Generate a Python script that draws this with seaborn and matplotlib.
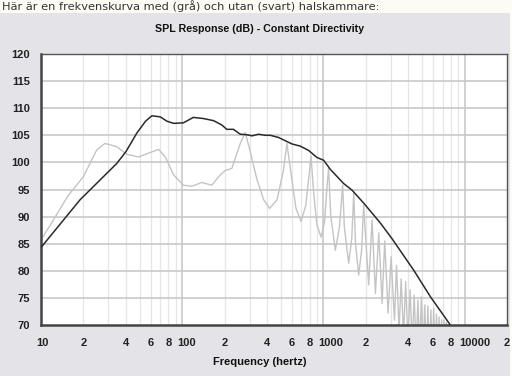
import numpy as np
import pandas as pd
import matplotlib
matplotlib.use("Agg")
import matplotlib.pyplot as plt
import matplotlib.transforms as mtrans
import seaborn as sns
from matplotlib.patches import Rectangle

# svart kurva (utan halskammare)
black_freq = [10, 18.9, 34.4, 40, 47.7, 55, 61, 70, 78, 87, 102, 120, 141, 167, 191, 207,
              231, 258, 288, 312, 348, 388, 421, 482, 537, 600, 687, 787, 902, 1005, 1122,
              1393, 1594, 1930, 2537, 3070, 4370, 5740, 7840, 9000]
black_db = [84.3, 93.1, 99.8, 102.0, 105.4, 107.6, 108.6, 108.4, 107.6, 107.2, 107.3, 108.3,
            108.1, 107.7, 106.9, 106.1, 106.1, 105.2, 105.1, 104.9, 105.2, 105.0, 105.0, 104.6,
            104.0, 103.4, 103.0, 102.2, 100.9, 100.4, 98.7, 96.1, 94.9, 92.5, 88.8, 85.9, 80.1,
            75.2, 70.2, 67.5]

# grå kurva (med halskammare)
gray_freq = [10, 12, 15.5, 20, 24.8, 28.4, 34.4, 40.5, 49, 59, 68, 76, 87, 102, 117, 138, 162,
             186, 202, 225, 258, 280,
             300, 339, 378, 416, 470, 522, 552,
             590, 640, 695, 750, 795, 818,
             850, 900, 964, 1020, 1065, 1090,
             1130, 1216, 1300, 1370,
             1410, 1512, 1590, 1642,
             1690, 1780, 1870, 1930,
             2095, 2215, 2338, 2470, 2608, 2722, 2876, 3020, 3190, 3300, 3440, 3560, 3700,
             3830, 3970, 4120, 4260, 4400, 4540, 4680, 4810, 4950, 5090, 5230, 5370, 5500,
             5640, 5780, 5910, 6050, 6190, 6330, 6460, 6600, 6740, 6880, 7010, 7150, 7280,
             7420, 7560]
gray_db = [85.7, 89.0, 93.8, 97.4, 102.3, 103.5, 102.9, 101.5, 101.0, 101.8, 102.4, 101.0, 97.7,
           95.8, 95.6, 96.3, 95.8, 97.7, 98.5, 98.9, 103.5, 105.5,
           102.5, 96.8, 93.1, 91.5, 93.1, 98.6, 103.5,
           98.0, 91.5, 89.1, 92.0, 98.0, 101.2,
           95.0, 88.5, 86.2, 89.0, 96.0, 98.9,
           90.0, 83.8, 88.0, 95.8,
           88.0, 81.4, 86.0, 94.3,
           85.0, 79.2, 84.0, 92.1,
           77.4, 89.4, 75.8, 87.0, 74.0, 85.5, 72.2, 82.6, 70.9, 81.0, 69.0, 78.5, 68.0,
           78.0, 67.0, 76.5, 66.0, 75.5, 66.0, 74.6, 65.0, 75.2, 65.0, 73.7, 64.0, 73.5,
           64.0, 72.8, 63.0, 73.1, 63.0, 72.0, 62.0, 71.5, 62.0, 71.0, 61.0, 70.9, 61.0,
           70.5, 60.0]

xticks = [10, 20, 40, 60, 80, 100, 200, 400, 600, 800, 1000, 2000, 4000, 6000, 8000, 10000, 20000]
xticklabels = ["10", "2", "4", "6", "8", "100", "2", "4", "6", "8", "1000", "2", "4", "6", "8",
               "10000", "2"]
yticks = [70, 75, 80, 85, 90, 95, 100, 105, 110, 115, 120]

black_df = pd.DataFrame({"freq": black_freq, "db": black_db})
gray_df = pd.DataFrame({"freq": gray_freq, "db": gray_db})

sns.set_style("white")
plt.rcParams["font.family"] = ["Liberation Sans", "DejaVu Sans"]

fig = plt.figure(figsize=(5.12, 3.76), dpi=100)
fig.patch.set_facecolor("#fcfcf4")
fig.patches.append(Rectangle((0, 0), 510 / 512, 1 - 13 / 376, transform=fig.transFigure,
                             facecolor="#e3e3e8", edgecolor="none", zorder=-5))

ax = fig.add_axes([41 / 512, 1 - 325 / 376, (507 - 41) / 512, (325 - 54) / 376])
ax.set_facecolor("white")
ax.set_xscale("log")

# rutnät
minor = [m * 10 ** e for e in range(1, 5) for m in range(2, 10)]
for v in minor:
    if 10 < v < 20000:
        ax.axvline(v, color="#e6e6e6", lw=0.9, zorder=1)
for v in [100, 1000, 10000]:
    ax.axvline(v, color="#c8c8c8", lw=1.2, zorder=1)
for v in yticks[1:-1]:
    ax.axhline(v, color="#c8c8c8", lw=1.2, zorder=1)

sns.lineplot(data=gray_df, x="freq", y="db", ax=ax, color="#c4c4c4", lw=1.0,
             estimator=None, sort=False, zorder=2)
sns.lineplot(data=black_df, x="freq", y="db", ax=ax, color="#2a2a2a", lw=1.1,
             estimator=None, sort=False, zorder=3)

ax.set_xlim(10, 20000)
ax.set_ylim(70, 120)
ax.set_xticks(xticks)
ax.set_xticklabels(xticklabels)
ax.xaxis.set_minor_locator(matplotlib.ticker.NullLocator())
ax.set_yticks(yticks)
ax.tick_params(axis="both", length=0, labelsize=8, colors="#222222")
ax.tick_params(axis="x", pad=9)
ax.tick_params(axis="y", pad=8)
for lab in ax.get_xticklabels() + ax.get_yticklabels():
    lab.set_fontweight("bold")
# flersiffriga etiketter börjar strax vänster om linjen
shift = mtrans.ScaledTranslation(-5 / 100, 0, fig.dpi_scale_trans)
for lab in ax.get_xticklabels():
    if len(lab.get_text()) > 1:
        lab.set_horizontalalignment("left")
        lab.set_transform(lab.get_transform() + shift)
ax.set_xlabel("")
ax.set_ylabel("")

for side in ["top", "right"]:
    ax.spines[side].set_color("#555555")
    ax.spines[side].set_linewidth(1.0)
for side in ["left", "bottom"]:
    ax.spines[side].set_color("#444444")
    ax.spines[side].set_linewidth(1.8)

fig.text(260 / 512, 1 - 29 / 376, "SPL Response (dB) - Constant Directivity", ha="center",
         va="center", fontsize=7.7, fontweight="bold", color="#111111")
fig.text(260 / 512, 1 - 362 / 376, "Frequency (hertz)", ha="center", va="center",
         fontsize=8, fontweight="bold", color="#111111")
fig.text(2 / 512, 1 - 6.5 / 376, "Här är en frekvenskurva med (grå) och utan (svart) halskammare:",
         ha="left", va="center", fontsize=8.2, color="#333333", family="DejaVu Sans")

fig.savefig("out.png", dpi=100, facecolor=fig.get_facecolor())
